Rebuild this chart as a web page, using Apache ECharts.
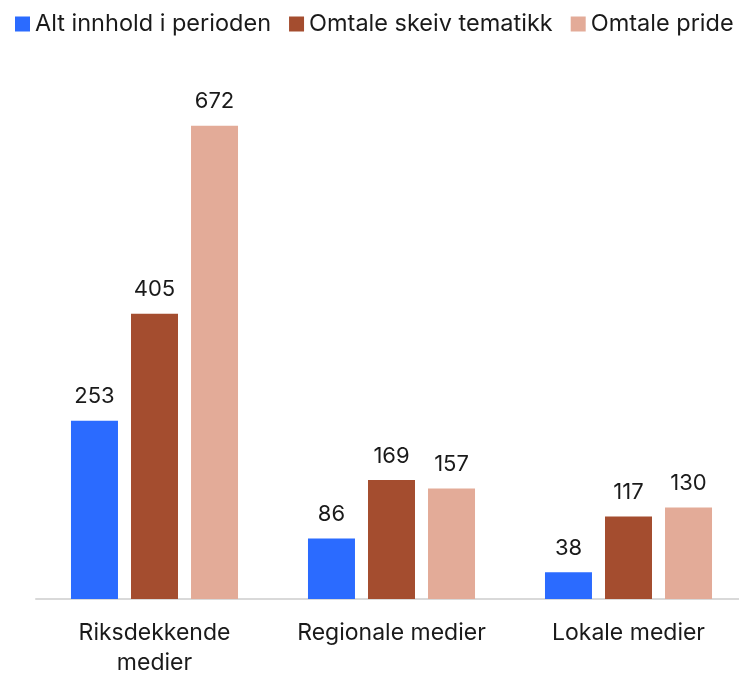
<!DOCTYPE html>
<html>
<head>
<meta charset="utf-8">
<script src="https://cdn.jsdelivr.net/npm/echarts@6/dist/echarts.min.js"></script>
<style>
  html, body { margin: 0; padding: 0; background: #fff; }
  #main { width: 739px; height: 673px; }
</style>
</head>
<body>
<div id="main"></div>
<script>
const categories = ['Riksdekkende\nmedier', 'Regionale medier', 'Lokale medier'];
const seriesNames = ['Alt innhold i perioden', 'Omtale skeiv tematikk', 'Omtale pride'];
const altInnhold = [253, 86, 38];
const skeivTematikk = [405, 169, 117];
const pride = [672, 157, 130];
const colors = ['#2b6bff', '#a44d2f', '#e3ab98'];

const myChart = echarts.init(document.getElementById('main'));

const labelOption = {
  show: true,
  position: 'top',
  distance: 13,
  fontFamily: 'Inter',
  fontSize: 22,
  color: '#1a1a1a'
};

const option = {
  animation: false,
  color: colors,
  textStyle: { fontFamily: 'Inter' },
  legend: {
    data: seriesNames,
    left: 15,
    top: 12,
    padding: 0,
    itemWidth: 15,
    itemHeight: 15,
    itemGap: 18,
    icon: 'rect',
    textStyle: {
      fontFamily: 'Inter',
      fontSize: 23.5,
      color: '#1a1a1a'
    }
  },
  grid: {
    left: 36,
    right: -8,
    top: 106,
    bottom: 74,
    containLabel: false,
    outerBoundsMode: 'none'
  },
  xAxis: {
    type: 'category',
    data: categories,
    axisLine: { lineStyle: { color: '#d9d9d9', width: 2 } },
    axisTick: { show: false },
    axisLabel: {
      interval: 0,
      fontFamily: 'Inter',
      fontSize: 23,
      color: '#1a1a1a',
      margin: 19,
      lineHeight: 30
    }
  },
  yAxis: {
    type: 'value',
    min: 0,
    max: 700,
    show: false,
    splitLine: { show: false }
  },
  series: [
    { name: seriesNames[0], type: 'bar', barWidth: 47, barGap: '27.7%', label: labelOption, data: altInnhold },
    { name: seriesNames[1], type: 'bar', barWidth: 47, barGap: '27.7%', label: labelOption, data: skeivTematikk },
    { name: seriesNames[2], type: 'bar', barWidth: 47, barGap: '27.7%', label: labelOption, data: pride }
  ]
};

myChart.setOption(option);
</script>
</body>
</html>
